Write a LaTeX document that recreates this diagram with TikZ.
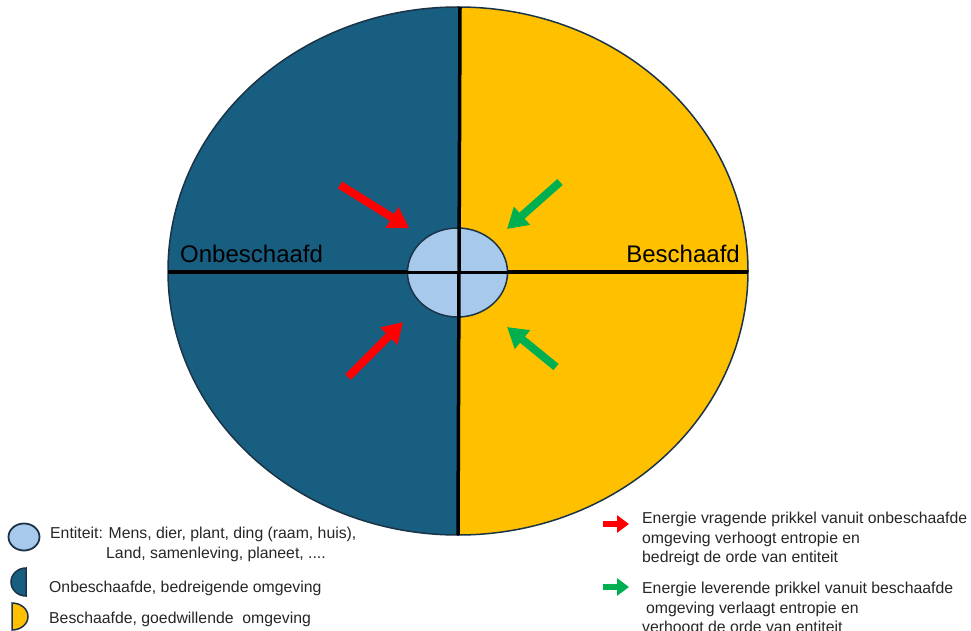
\documentclass[tikz,border=0pt]{standalone}
\usepackage{fontspec}
\setmainfont{Liberation Sans}
\usetikzlibrary{arrows.meta,shapes.geometric}
\definecolor{envblue}{HTML}{185E80}
\definecolor{envyellow}{HTML}{FFC000}
\definecolor{entblue}{HTML}{A6C9EC}
\definecolor{outl}{HTML}{1B3347}
\definecolor{arrred}{HTML}{FF0000}
\definecolor{arrgreen}{HTML}{00B050}
\tikzset{
  bigarrow/.style={line width=8pt, -{Triangle[length=20pt,width=23pt]}},
  iconarrow/.style={line width=6pt, -{Triangle[length=12pt,width=17pt]}},
  label/.style={font=\fontsize{24}{28}\selectfont, text=black, inner sep=0pt},
  legtext/.style={font=\fontsize{15.8}{19.5}\selectfont, text=black!85, inner sep=0pt, anchor=base west},
  crossline/.style={line width=3.5pt, black},
}
\begin{document}
\begin{tikzpicture}[x=1pt,y=-1pt]
\useasboundingbox (0,0) rectangle (971,631);
% big ellipse halves
\fill[envyellow] (458,271) ellipse[x radius=290, y radius=264];
\begin{scope}
  \clip (0,0) rectangle (459,631);
  \fill[envblue] (458,271) ellipse[x radius=290, y radius=264];
\end{scope}
\draw[outl, line width=1.5pt] (458,271) ellipse[x radius=290, y radius=264];
% cross lines
\coordinate (hl) at (168,272);
\coordinate (hr) at (748,272);
\coordinate (vt) at (460,7);
\coordinate (vb) at (458,535);
\draw[crossline] (hl) -- (hr);
% entity
\node[draw=outl, line width=1.5pt, fill=entblue, ellipse, minimum width=100pt, minimum height=89pt, inner sep=0pt] (ent) at (457.5,272.5) {};
\draw[crossline] (vt) -- (vb);
\draw[crossline] (ent.west) -- (ent.east);
% labels
\node[label, anchor=base west] (onb) at (180,262) {Onbeschaafd};
\node[label, anchor=base east] (besch) at (740,262) {Beschaafd};
% arrows
\coordinate (r1s) at (340,185);
\coordinate (r1e) at (409,228);
\coordinate (r2s) at (348,377);
\coordinate (r2e) at (403,322);
\coordinate (g1s) at (560,182);
\coordinate (g1e) at (507,229);
\coordinate (g2s) at (556,367);
\coordinate (g2e) at (507,327);
\draw[bigarrow, arrred] (r1s) -- (r1e);
\draw[bigarrow, arrred] (r2s) -- (r2e);
\draw[bigarrow, arrgreen] (g1s) -- (g1e);
\draw[bigarrow, arrgreen] (g2s) -- (g2e);
% left legend
\node[draw=outl, line width=1.8pt, fill=entblue, ellipse, minimum width=31pt, minimum height=27pt, inner sep=0pt] (legent) at (24,537) {};
\draw[draw=outl, line width=1.5pt, fill=envblue] (26,568) arc[start angle=270, end angle=90, x radius=15, y radius=14] -- cycle;
\draw[draw=outl, line width=1.5pt, fill=envyellow] (12,603) arc[start angle=270, end angle=450, x radius=16, y radius=13.5] -- cycle;
\node[legtext] (lt1) at (50,538.5) {Entiteit: Mens, dier, plant, ding (raam, huis),};
\node[legtext] (lt2) at (106,558.5) {Land, samenleving, planeet, ....};
\node[legtext] (lt3) at (49,592.5) {Onbeschaafde, bedreigende omgeving};
\node[legtext] (lt4) at (49,623.5) {Beschaafde, goedwillende\ \ omgeving};
% right legend
\coordinate (ira) at (603,524);
\coordinate (irb) at (629,524);
\coordinate (iga) at (603,587);
\coordinate (igb) at (629,587);
\draw[iconarrow, arrred] (ira) -- (irb);
\draw[iconarrow, arrgreen] (iga) -- (igb);
\node[legtext] (rt1a) at (642,523.5) {Energie vragende prikkel vanuit onbeschaafde};
\node[legtext] (rt1b) at (642,543.5) {omgeving verhoogt entropie en};
\node[legtext] (rt1c) at (642,562.5) {bedreigt de orde van entiteit};
\node[legtext] (rt2a) at (642,593.5) {Energie leverende prikkel vanuit beschaafde};
\node[legtext] (rt2b) at (646,613.5) {omgeving verlaagt entropie en};
\node[legtext] (rt2c) at (642,632.5) {verhoogt de orde van entiteit};
\end{tikzpicture}
\end{document}
